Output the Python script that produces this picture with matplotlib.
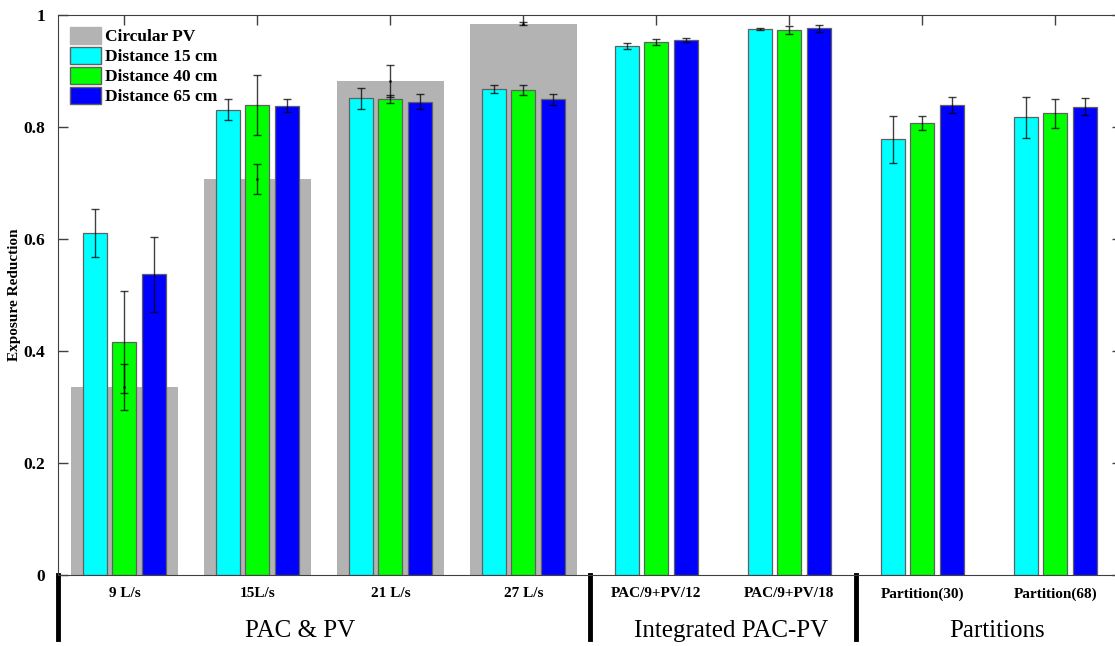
import numpy as np
import matplotlib.pyplot as plt
import matplotlib.transforms as mtransforms
from matplotlib.patches import Patch

plt.rcParams['font.family'] = ['Liberation Serif', 'DejaVu Serif']

categories = ['9 L/s', '15L/s', '21 L/s', '27 L/s',
              'PAC/9+PV/12', 'PAC/9+PV/18', 'Partition(30)', 'Partition(68)']
circular_pv = [0.336, 0.707, 0.882, 0.984]
circular_pv_err = [0.041, 0.026, 0.028, 0.003]
dist15 = [0.611, 0.831, 0.851, 0.867, 0.944, 0.975, 0.778, 0.817]
dist15_err = [0.043, 0.019, 0.019, 0.007, 0.005, 0.002, 0.042, 0.037]
dist40 = [0.416, 0.839, 0.850, 0.866, 0.952, 0.973, 0.807, 0.824]
dist40_err = [0.091, 0.053, 0.007, 0.009, 0.005, 0.007, 0.013, 0.026]
dist65 = [0.537, 0.838, 0.845, 0.849, 0.955, 0.976, 0.839, 0.836]
dist65_err = [0.067, 0.012, 0.013, 0.010, 0.004, 0.006, 0.015, 0.015]
groups = ['PAC & PV', 'Integrated PAC-PV', 'Partitions']
group_x = [2.32, 5.56, 7.56]
separators = [0.5, 4.5, 6.5]

x = np.arange(1, len(categories) + 1)
xg = np.arange(1, len(circular_pv) + 1)

fig = plt.figure(figsize=(11.15, 6.46), dpi=100)
ax = fig.add_axes([0.052, 0.11, 0.954, 0.867])

edge = '#606060'
ekw = dict(ecolor='black', elinewidth=1, capsize=3, capthick=1, alpha=0.75)

ax.bar(xg, circular_pv, width=0.8, color='#b3b3b3', zorder=1)
ax.bar(x - 0.222, dist15, width=0.18, color='#00ffff', edgecolor=edge, linewidth=0.9, zorder=2)
ax.bar(x, dist40, width=0.18, color='#00ff00', edgecolor=edge, linewidth=0.9, zorder=2)
ax.bar(x + 0.222, dist65, width=0.18, color='#0000ff', edgecolor=edge, linewidth=0.9, zorder=2)

ax.errorbar(x - 0.222, dist15, yerr=dist15_err, fmt='none', zorder=3, **ekw)
ax.errorbar(x, dist40, yerr=dist40_err, fmt='none', zorder=3, **ekw)
ax.errorbar(x + 0.222, dist65, yerr=dist65_err, fmt='none', zorder=3, **ekw)
ax.errorbar(xg, circular_pv, yerr=circular_pv_err, fmt='.', ms=2, color='black', zorder=4, **ekw)

ax.set_xlim(0.5, 8.5)
ax.set_ylim(0, 1)
ax.set_xticks(x)
ax.set_xticklabels(categories, fontweight='bold', fontsize=11)
ax.set_yticks([0, 0.2, 0.4, 0.6, 0.8, 1])
ax.set_yticklabels(['0', '0.2', '0.4', '0.6', '0.8', '1'], fontweight='bold', fontsize=12.5)
ax.tick_params(direction='in', top=True, right=True, length=7, width=1, color='#404040', pad=9)
for s in ax.spines.values():
    s.set_color('#404040')
ax.set_ylabel('Exposure Reduction', fontweight='bold', fontsize=11)
ax.yaxis.set_label_coords(-0.035, 0.5)

trans = mtransforms.blended_transform_factory(ax.transData, ax.transAxes)
for sx in separators:
    ax.plot([sx, sx], [0, -0.115], color='black', lw=3.5, transform=trans, clip_on=False)
for gx, g in zip(group_x, groups):
    ax.text(gx, -0.1, g, ha='center', va='center', fontsize=18, transform=trans)

handles = [Patch(facecolor='#b3b3b3', edgecolor='#b3b3b3', label='Circular PV'),
           Patch(facecolor='#00ffff', edgecolor=edge, label='Distance 15 cm'),
           Patch(facecolor='#00ff00', edgecolor=edge, label='Distance 40 cm'),
           Patch(facecolor='#0000ff', edgecolor=edge, label='Distance 65 cm')]
ax.legend(handles=handles, loc='upper left', frameon=False, prop={'weight': 'bold', 'size': 12.5},
          handlelength=1.8, handleheight=1.1, handletextpad=0.2, labelspacing=0.1,
          borderaxespad=0.3, bbox_to_anchor=(0.0, 1.0))

fig.savefig('out.png', dpi=100)
